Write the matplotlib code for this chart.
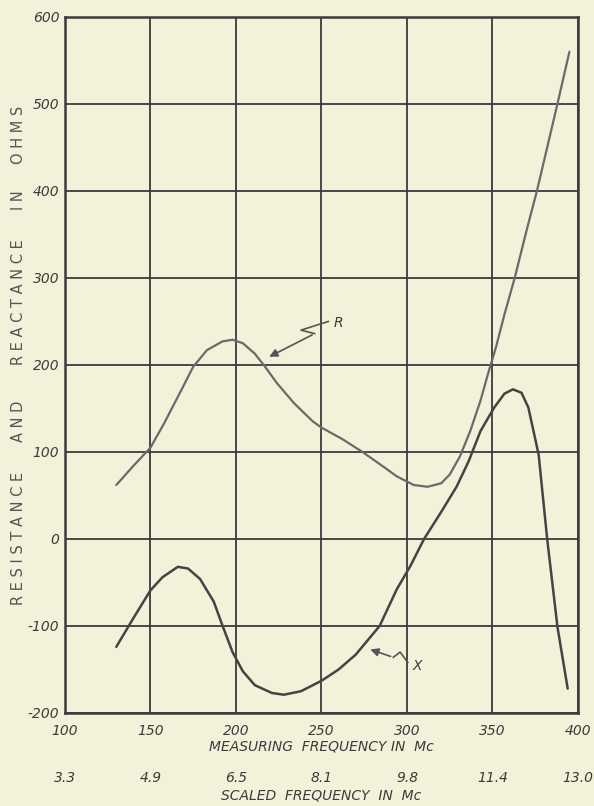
import numpy as np
import matplotlib.pyplot as plt

# values (frequency in Mc, ohms)
r_freq = [130, 140, 150, 158, 168, 175, 183, 192, 198, 204, 211, 217, 224, 234, 245,
          250, 262, 274, 287, 294, 304, 312, 320, 325, 331, 337, 343, 348, 352, 357,
          363, 370, 376, 382, 388, 395]
r_ohms = [62, 84, 105, 133, 171, 198, 217, 227, 229, 225, 213, 198, 179, 156, 135,
          128, 115, 100, 82, 72, 62, 60, 64, 74, 95, 124, 159, 194, 220, 258,
          300, 355, 400, 450, 500, 560]

x_freq = [130, 140, 150, 157, 166, 172, 179, 187, 192, 198, 204, 211, 221, 228, 238,
          245, 250, 260, 270, 284, 294, 302, 310, 320, 329, 336, 343, 351, 357, 362,
          367, 371, 374, 377, 382, 388, 394]
x_ohms = [-124, -91, -59, -44, -32, -34, -46, -72, -99, -130, -152, -168, -177, -179, -175,
          -168, -163, -150, -133, -100, -58, -31, 0, 31, 60, 89, 124, 151, 167, 172,
          168, 151, 124, 97, 0, -101, -172]

meas_ticks = [100, 150, 200, 250, 300, 350, 400]
scaled_labels = ['3.3', '4.9', '6.5', '8.1', '9.8', '11.4', '13.0']
ohm_ticks = [-200, -100, 0, 100, 200, 300, 400, 500, 600]
ylab_words = ['RESISTANCE', 'AND', 'REACTANCE', 'IN', 'OHMS']
ylab_centers = [538, 421, 302, 200, 135]   # pixel rows of each word

paper = '#f3f1da'
ink = '#3b3b3b'

fig = plt.figure(figsize=(5.94, 8.06), dpi=100, facecolor=paper)
ax = fig.add_axes([0.1094, 0.1154, 0.8636, 0.8636])
ax.set_facecolor(paper)

ax.set_xlim(100, 400)
ax.set_ylim(-200, 600)
ax.set_xticks(meas_ticks)
ax.set_yticks(ohm_ticks)
ax.grid(True, color=ink, lw=1.3)
ax.set_axisbelow(True)
for sp in ax.spines.values():
    sp.set_color(ink)
    sp.set_linewidth(1.8)
ax.tick_params(length=0, colors=ink)
ax.set_xticklabels([str(t) for t in meas_ticks], fontsize=10, fontstyle='italic', color=ink)
ax.set_yticklabels([str(t) for t in ohm_ticks], fontsize=10, fontstyle='italic', color=ink)
ax.tick_params(axis='x', pad=8)
ax.tick_params(axis='y', pad=4)
ax.set_xlabel('MEASURING  FREQUENCY IN  Mc', fontsize=10, fontstyle='italic',
              color=ink, labelpad=1)

# second scale under the first one
sec = ax.secondary_xaxis(-0.083)
sec.set_xticks(meas_ticks)
sec.set_xticklabels(scaled_labels, fontsize=10, fontstyle='italic', color=ink)
sec.tick_params(length=0, pad=0)
sec.spines['bottom'].set_visible(False)
sec.set_xlabel('SCALED  FREQUENCY  IN  Mc', fontsize=10, fontstyle='italic',
               color=ink, labelpad=3)

ax.plot(r_freq, r_ohms, color='#6a6a6a', lw=1.6, solid_capstyle='round',
        solid_joinstyle='round')
ax.plot(x_freq, x_ohms, color='#444444', lw=1.8, solid_capstyle='round',
        solid_joinstyle='round')

# zigzag pointers with their letters
ax.plot([254, 238, 246], [250, 240, 236], color='#555555', lw=1.2)
ax.annotate('', xy=(218, 208), xytext=(246, 236),
            arrowprops=dict(arrowstyle='-|>', color='#555555', lw=1.2, mutation_scale=12))
ax.text(260, 248, 'R', fontsize=10, fontstyle='italic', color=ink, ha='center', va='center')

ax.plot([300.5, 296, 292], [-142, -130, -136], color='#555555', lw=1.2)
ax.annotate('', xy=(277, -126), xytext=(292, -136),
            arrowprops=dict(arrowstyle='-|>', color='#555555', lw=1.2, mutation_scale=12))
ax.text(306, -146, 'X', fontsize=10, fontstyle='italic', color=ink, ha='center', va='center')

# spaced-out vertical title, one word at a time
for word, yc in zip(ylab_words, ylab_centers):
    fig.text(0.031, 1 - yc / 806, ' '.join(word), rotation=90, fontsize=10.5,
             color='#555555', ha='center', va='center')

fig.savefig('out.png', dpi=100, facecolor=paper)
